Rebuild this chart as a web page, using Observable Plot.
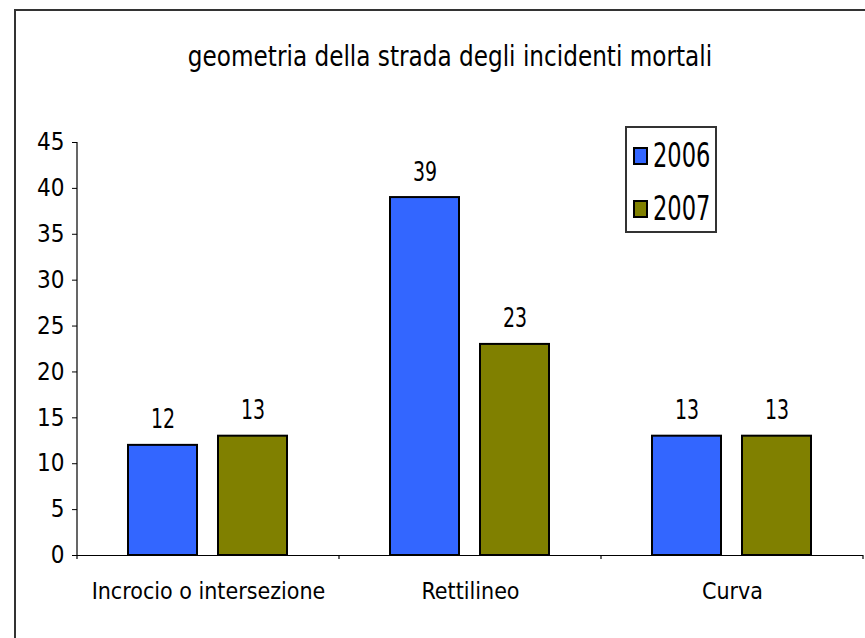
<!DOCTYPE html>
<html>
<head>
<meta charset="utf-8">
<script src="https://cdn.jsdelivr.net/npm/d3@7"></script>
<script src="https://cdn.jsdelivr.net/npm/@observablehq/plot@0.6"></script>
<style>
  html, body { margin: 0; padding: 0; background: #fff; }
  #wrap { position: relative; width: 865px; height: 638px; overflow: hidden; background: #fff; }
  #border { position: absolute; left: 14px; top: 9px; width: 1000px; height: 1000px; border: 2px solid #333; box-sizing: border-box; }
  #title { position: absolute; left: 0; width: 900px; top: 39px; text-align: center; font-family: "DejaVu Sans Condensed", "DejaVu Sans", sans-serif; font-size: 29px; color: #000; white-space: nowrap; transform: scaleX(0.888); transform-origin: 450px 0; }
  #chart { position: absolute; left: 0; top: 100px; }
  #legend { position: absolute; left: 625px; top: 126px; width: 92px; height: 107px; border: 2px solid #333; box-sizing: border-box; background: #fff; }
  .sw { position: absolute; left: 6px; width: 15px; height: 18px; border: 2px solid #000; box-sizing: border-box; }
  .lt { position: absolute; left: 26px; font-family: "DejaVu Sans Condensed", "DejaVu Sans", sans-serif; font-size: 33px; line-height: 33px; color: #000; white-space: nowrap; transform: scaleX(0.76); transform-origin: 0 0; }
</style>
</head>
<body>
<div id="wrap">
  <div id="border"></div>
  <div id="title"></div>
  <div id="chart"></div>
  <div id="legend"></div>
</div>
<script>
const titleText = "geometria della strada degli incidenti mortali";
const categories = ["Incrocio o intersezione", "Rettilineo", "Curva"];
const years = ["2006", "2007"];
const values2006 = [12, 39, 13];
const values2007 = [13, 23, 13];
const yTicks = [0, 5, 10, 15, 20, 25, 30, 35, 40, 45];
const colors = ["#3366FF", "#808000"];

const data = categories.flatMap((c, i) => [
  {cat: c, year: years[0], value: values2006[i]},
  {cat: c, year: years[1], value: values2007[i]}
]);

document.getElementById("title").textContent = titleText;

const axisFont = "'DejaVu Sans Condensed', 'DejaVu Sans', sans-serif";

const plot = Plot.plot({
  width: 865,
  height: 538,
  marginTop: 42,
  marginBottom: 83,
  marginLeft: 76,
  marginRight: 2,
  style: {fontFamily: axisFont, fontSize: "24px", color: "#000", background: "transparent"},
  fx: {domain: categories, padding: 0, axis: null, label: null},
  x: {domain: years, paddingInner: 0.233, paddingOuter: 0.572, axis: null, label: null},
  y: {domain: [0, 45], axis: null, label: null},
  color: {domain: years, range: colors},
  marks: [
    Plot.axisY({ticks: yTicks, label: null, tickSize: 5, tickPadding: 8, fontSize: 24, fontFamily: axisFont, stroke: "#000"}),
    Plot.axisFx({anchor: "bottom", label: null, tickSize: 0, tickPadding: 27, fontSize: 23, fontFamily: axisFont}),
    Plot.barY(data, {fx: "cat", x: "year", y: "value", fill: "year", stroke: "#000", strokeWidth: 2}),
    Plot.ruleY([0], {stroke: "#000", strokeWidth: 1}),
    Plot.text(data, {fx: "cat", x: "year", y: "value", text: d => String(d.value), lineAnchor: "bottom", dy: -17, fontSize: 27, fontFamily: axisFont, fill: "#000", className: "vlabel"})
  ]
});

const svg = d3.select(plot.tagName === "svg" ? plot : plot.querySelector("svg"));

// condense value labels horizontally
svg.selectAll("g.vlabel text").each(function () {
  const t = d3.select(this);
  const tr = t.attr("transform") || "";
  t.attr("transform", tr + " scale(0.78,1)");
});

// y-axis line and category boundary ticks, from the plot's own scales
const ys = plot.scale("y");
const fxs = plot.scale("fx");
const y0 = ys.apply(0), yTop = ys.apply(45);
const xLeft = fxs.apply(categories[0]);
svg.append("line").attr("x1", xLeft).attr("x2", xLeft).attr("y1", yTop).attr("y2", y0 + 4)
  .attr("stroke", "#000").attr("stroke-width", 1.2);
categories.forEach(c => {
  const xb = fxs.apply(c) + fxs.bandwidth;
  svg.append("line").attr("x1", xb).attr("x2", xb).attr("y1", y0).attr("y2", y0 + 4)
    .attr("stroke", "#000").attr("stroke-width", 1.2);
});

document.getElementById("chart").appendChild(plot);

// legend
const legend = document.getElementById("legend");
years.forEach((yr, i) => {
  const sw = document.createElement("div");
  sw.className = "sw";
  sw.style.top = (19 + i * 53) + "px";
  sw.style.background = colors[i];
  legend.appendChild(sw);
  const lt = document.createElement("div");
  lt.className = "lt";
  lt.style.top = (11 + i * 53) + "px";
  lt.textContent = yr;
  legend.appendChild(lt);
});
</script>
</body>
</html>
